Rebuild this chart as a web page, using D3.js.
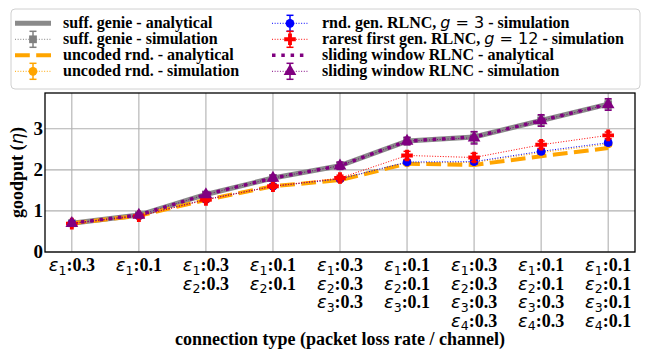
<!DOCTYPE html>
<html>
<head>
<meta charset="utf-8">
<script src="https://cdn.jsdelivr.net/npm/d3@7"></script>
<style>body { margin: 0; background: #fff; }</style>
</head>
<body>
<svg id="chart"></svg>
<script>
// x categories: one entry per line of the tick label ("ε<i>:<rate>")
const tickLabels = [
  ["ε1:0.3"],
  ["ε1:0.1"],
  ["ε1:0.3", "ε2:0.3"],
  ["ε1:0.1", "ε2:0.1"],
  ["ε1:0.3", "ε2:0.3", "ε3:0.3"],
  ["ε1:0.1", "ε2:0.1", "ε3:0.1"],
  ["ε1:0.3", "ε2:0.3", "ε3:0.3", "ε4:0.3"],
  ["ε1:0.1", "ε2:0.1", "ε3:0.3", "ε4:0.3"],
  ["ε1:0.1", "ε2:0.1", "ε3:0.1", "ε4:0.1"]
];
const yTicks = [0, 1, 2, 3];

const genieAnalytical   = [0.70, 0.90, 1.40, 1.80, 2.10, 2.70, 2.80, 3.20, 3.60];
const genieSim          = [0.70, 0.90, 1.40, 1.80, 2.10, 2.70, 2.79, 3.20, 3.59];
const genieSimErr       = [0.03, 0.04, 0.05, 0.06, 0.08, 0.09, 0.13, 0.12, 0.11];
const uncodedAnalytical = [0.70, 0.88, 1.27, 1.60, 1.75, 2.15, 2.12, 2.33, 2.53];
const uncodedSim        = [0.70, 0.88, 1.28, 1.60, 1.77, 2.17, 2.18, 2.42, 2.63];
const uncodedSimErr     = [0.02, 0.03, 0.04, 0.04, 0.05, 0.05, 0.06, 0.06, 0.06];
const rndGenSim         = [0.70, 0.88, 1.28, 1.60, 1.78, 2.19, 2.20, 2.45, 2.66];
const rndGenSimErr      = [0.02, 0.03, 0.04, 0.04, 0.05, 0.05, 0.06, 0.06, 0.06];
const rarestSim         = [0.69, 0.87, 1.27, 1.60, 1.80, 2.35, 2.30, 2.61, 2.84];
const rarestSimErr      = [0.03, 0.04, 0.05, 0.05, 0.07, 0.10, 0.10, 0.09, 0.08];
const slidingAnalytical = [0.70, 0.90, 1.40, 1.80, 2.10, 2.70, 2.80, 3.20, 3.60];
const slidingSim        = [0.70, 0.90, 1.40, 1.80, 2.10, 2.70, 2.78, 3.20, 3.59];
const slidingSimErr     = [0.03, 0.04, 0.06, 0.07, 0.09, 0.09, 0.15, 0.14, 0.14];

const width = 646, height = 352;
const margin = { left: 45, right: 11, top: 93, bottom: 100 };
const SERIF = "Liberation Serif";
const MATH = "DejaVu Sans";

const svg = d3.select("#chart").attr("width", width).attr("height", height);

const x = d3.scaleLinear().domain([-0.4, 8.4]).range([margin.left, width - margin.right]);
const y = d3.scaleLinear().domain([0, 3.87]).range([height - margin.bottom, margin.top]);

const series = [
  { label: "suff. genie - analytical", values: genieAnalytical, color: "#8a8a8a", width: 5, dash: null },
  { label: "suff. genie - simulation", values: genieSim, err: genieSimErr, color: "#808080", width: 1, dash: "1,1.65", marker: "square" },
  { label: "uncoded rnd. - analytical", values: uncodedAnalytical, color: "orange", width: 4, dash: "14.8,6.4" },
  { label: "uncoded rnd. - simulation", values: uncodedSim, err: uncodedSimErr, color: "orange", width: 1, dash: "1,1.65", marker: "circle" },
  { label: ["rnd. gen. RLNC, ", "3", " - simulation"], values: rndGenSim, err: rndGenSimErr, color: "blue", width: 1, dash: "1,1.65", marker: "circle" },
  { label: ["rarest first gen. RLNC, ", "12", " - simulation"], values: rarestSim, err: rarestSimErr, color: "red", width: 1, dash: "1,1.65", marker: "plus" },
  { label: "sliding window RLNC - analytical", values: slidingAnalytical, color: "purple", width: 3.5, dash: "3.5,5.8" },
  { label: "sliding window RLNC - simulation", values: slidingSim, err: slidingSimErr, color: "purple", width: 1, dash: "1,1.65", marker: "triangle" }
];

// grid
const grid = svg.append("g");
grid.selectAll(".gx").data(d3.range(tickLabels.length)).enter().append("line")
  .attr("x1", d => x(d)).attr("x2", d => x(d))
  .attr("y1", y.range()[0]).attr("y2", y.range()[1])
  .attr("stroke", "#b0b0b0").attr("stroke-width", 1.1);
grid.selectAll(".gy").data(yTicks).enter().append("line")
  .attr("x1", x.range()[0]).attr("x2", x.range()[1])
  .attr("y1", d => y(d)).attr("y2", d => y(d))
  .attr("stroke", "#b0b0b0").attr("stroke-width", 1.1);

const symbols = {
  square: d3.symbol().type(d3.symbolSquare).size(60),
  circle: d3.symbol().type(d3.symbolCircle).size(60),
  plus: d3.symbol().type(d3.symbolCross).size(75),
  triangle: d3.symbol().type(d3.symbolTriangle).size(70)
};

function drawMarker(g, s, cx, cy) {
  g.append("path")
    .attr("d", symbols[s.marker]())
    .attr("transform", `translate(${cx},${cy})`)
    .attr("fill", s.color);
}

function drawErr(g, s, cx, y0, y1) {
  g.append("line").attr("x1", cx).attr("x2", cx).attr("y1", y0).attr("y2", y1)
    .attr("stroke", s.color).attr("stroke-width", 1.5);
  [y0, y1].forEach(yy => g.append("line")
    .attr("x1", cx - 3.5).attr("x2", cx + 3.5).attr("y1", yy).attr("y2", yy)
    .attr("stroke", s.color).attr("stroke-width", 1.5));
}

const line = d3.line().x((d, i) => x(i)).y(d => y(d));
const plot = svg.append("g");

series.forEach(s => {
  const g = plot.append("g");
  g.append("path")
    .datum(s.values)
    .attr("d", line)
    .attr("fill", "none")
    .attr("stroke", s.color)
    .attr("stroke-width", s.width)
    .attr("stroke-dasharray", s.dash)
    .attr("stroke-linejoin", "round");
  if (s.err) {
    s.values.forEach((v, i) => drawErr(g, s, x(i), y(v - s.err[i]), y(v + s.err[i])));
    s.values.forEach((v, i) => drawMarker(g, s, x(i), y(v)));
  }
});

// axes frame
svg.append("rect")
  .attr("x", x.range()[0]).attr("y", y.range()[1])
  .attr("width", x.range()[1] - x.range()[0]).attr("height", y.range()[0] - y.range()[1])
  .attr("fill", "none").attr("stroke", "#000").attr("stroke-width", 1.3);

// y tick labels
svg.selectAll(".yt").data(yTicks).enter().append("text")
  .attr("x", margin.left - 2).attr("y", d => y(d) + 6)
  .attr("text-anchor", "end").attr("font-size", 19)
  .attr("font-family", SERIF).attr("font-weight", "bold")
  .text(d => d);

// x tick labels
tickLabels.forEach((lines, i) => {
  lines.forEach((l, j) => {
    const t = svg.append("text")
      .attr("x", x(i)).attr("y", y(0) + 19 + j * 18.6)
      .attr("text-anchor", "middle").attr("font-size", 18)
      .attr("font-family", SERIF).attr("font-weight", "bold");
    t.append("tspan").attr("font-family", MATH).attr("font-weight", "normal")
      .attr("font-style", "italic").text(l[0]);
    t.append("tspan").attr("font-family", MATH).attr("font-weight", "normal")
      .attr("font-size", 12.5).attr("dy", 3.5).text(l[1]);
    t.append("tspan").attr("dy", -3.5).text(l.slice(2));
  });
});

// axis labels
svg.append("text")
  .attr("x", (x.range()[0] + x.range()[1]) / 2).attr("y", 345)
  .attr("text-anchor", "middle").attr("font-size", 18)
  .attr("font-family", SERIF).attr("font-weight", "bold")
  .text("connection type (packet loss rate / channel)");

const yl = svg.append("text")
  .attr("transform", `translate(23,${(y.range()[0] + y.range()[1]) / 2}) rotate(-90)`)
  .attr("text-anchor", "middle").attr("font-size", 18)
  .attr("font-family", SERIF).attr("font-weight", "bold");
yl.append("tspan").text("goodput (");
yl.append("tspan").attr("font-family", MATH).attr("font-weight", "normal")
  .attr("font-style", "italic").text("η");
yl.append("tspan").text(")");

// legend
const legend = svg.append("g");
legend.append("rect")
  .attr("x", 11).attr("y", 9).attr("width", 629).attr("height", 80)
  .attr("rx", 4).attr("fill", "#fff").attr("fill-opacity", 0.8)
  .attr("stroke", "#d0d0d0").attr("stroke-width", 1);

const cols = [{ x0: 15, tx: 63 }, { x0: 272, tx: 322 }];
series.forEach((s, k) => {
  const c = cols[Math.floor(k / 4)];
  const cy = 23.3 + (k % 4) * 16;
  const g = legend.append("g");
  g.append("line")
    .attr("x1", c.x0).attr("x2", c.x0 + 36).attr("y1", cy).attr("y2", cy)
    .attr("stroke", s.color).attr("stroke-width", s.width)
    .attr("stroke-dasharray", s.dash);
  if (s.err) {
    drawErr(g, s, c.x0 + 18, cy - 8, cy + 8);
    drawMarker(g, s, c.x0 + 18, cy);
  }
  const t = g.append("text").attr("x", c.tx).attr("y", cy + 5).attr("font-size", 16)
    .attr("font-family", SERIF).attr("font-weight", "bold");
  if (Array.isArray(s.label)) {
    t.append("tspan").text(s.label[0]);
    t.append("tspan").attr("font-family", MATH).attr("font-weight", "normal")
      .attr("font-style", "italic").text("g");
    t.append("tspan").attr("font-family", MATH).attr("font-weight", "normal")
      .text(" = " + s.label[1]);
    t.append("tspan").text(s.label[2]);
  } else {
    t.text(s.label);
  }
});
</script>
</body>
</html>
